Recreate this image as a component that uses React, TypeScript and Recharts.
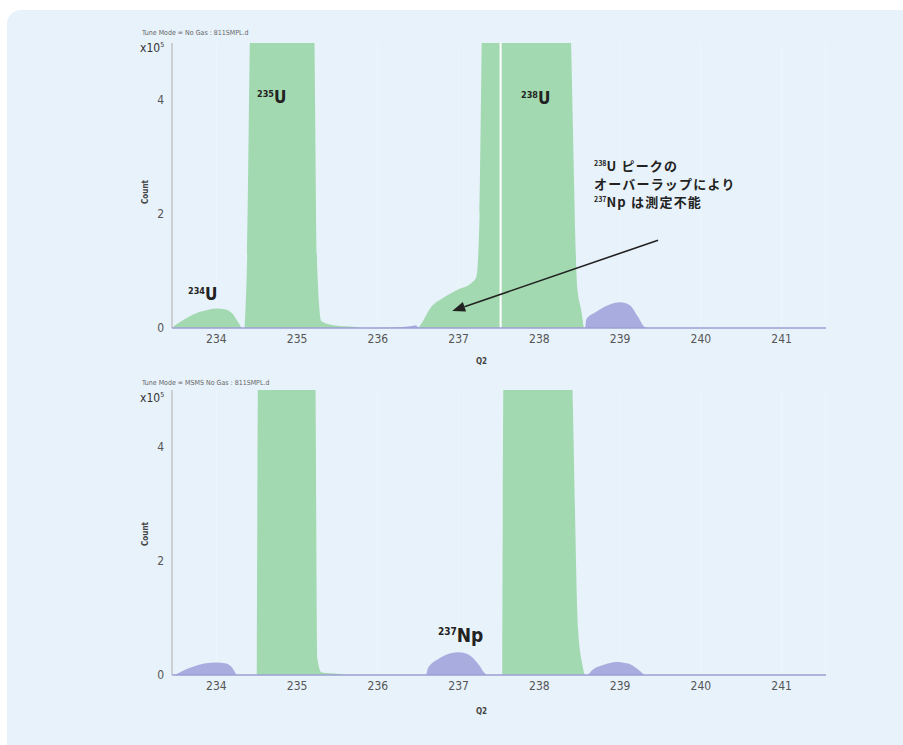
import React from 'react';
import {
  ComposedChart,
  Area,
  XAxis,
  YAxis,
  CartesianGrid,
  ReferenceLine,
} from 'recharts';

// Q2 ticks and count ticks (x10^5)
const qTicks = [234, 235, 236, 237, 238, 239, 240, 241];
const countTicks = [0, 2, 4];

// Top panel (No Gas) peaks: [q, count]
const topU234 = [[233.47, 0.03], [233.6, 0.15], [233.75, 0.26], [233.9, 0.32], [234.0, 0.34], [234.1, 0.33], [234.2, 0.25], [234.27, 0.1], [234.31, 0]];
const topU235 = [[234.35, 0], [234.38, 1.2], [234.43, 6], [235.2, 6], [235.25, 1.0], [235.3, 0.12], [235.5, 0.04], [235.7, 0.02], [235.8, 0]];
const topU238 = [[236.5, 0], [236.55, 0.1], [236.65, 0.35], [236.8, 0.52], [237.0, 0.68], [237.15, 0.78], [237.22, 0.9], [237.26, 2], [237.3, 6], [238.36, 6], [238.47, 0.7], [238.52, 0.3], [238.55, 0]];
const topBlue236 = [[235.6, 0], [236.2, 0.01], [236.4, 0.03], [236.47, 0.05], [236.5, 0]];
const topBlue239 = [[238.57, 0], [238.58, 0.15], [238.7, 0.28], [238.85, 0.4], [239.0, 0.45], [239.12, 0.4], [239.22, 0.2], [239.3, 0.02], [239.33, 0]];

// Bottom panel (MSMS No Gas) peaks
const botBlue234 = [[233.48, 0], [233.55, 0.05], [233.7, 0.14], [233.85, 0.2], [234.0, 0.22], [234.12, 0.2], [234.2, 0.12], [234.25, 0]];
const botGreen235 = [[234.5, 0], [234.52, 6], [235.22, 6], [235.25, 0.3], [235.3, 0.05], [235.5, 0.02], [235.6, 0]];
const botBlue237 = [[236.6, 0], [236.62, 0.12], [236.75, 0.28], [236.9, 0.38], [237.0, 0.4], [237.12, 0.36], [237.25, 0.18], [237.33, 0.02], [237.35, 0]];
const botGreen238 = [[237.54, 0], [237.56, 6], [238.38, 6], [238.48, 0.8], [238.53, 0.2], [238.56, 0]];
const botBlue239 = [[238.6, 0], [238.65, 0.08], [238.8, 0.18], [238.95, 0.23], [239.1, 0.2], [239.22, 0.1], [239.3, 0]];

// arrow from the note to the hidden 237Np region
const arrowFrom = { q: 239.47, c: 1.54 };
const arrowTo = { q: 236.92, c: 0.3 };

const GREEN = '#a3d9b1';
const BLUE = '#a9acdf';
const AXIS_FONT = '"DejaVu Sans Condensed", "Liberation Sans Narrow", Roboto, sans-serif';
const JP_FONT = '"Noto Sans CJK JP", "Noto Sans", sans-serif';

const toRows = (pts: number[][]) => pts.map(([q, c]) => ({ q, c }));

const Arrow = (props: any) => {
  const { x1, y1, x2, y2 } = props;
  const a = Math.atan2(y2 - y1, x2 - x1);
  const len = 13;
  const w = 5;
  const bx = x2 - len * Math.cos(a);
  const by = y2 - len * Math.sin(a);
  const px = -Math.sin(a) * w;
  const py = Math.cos(a) * w;
  return (
    <g>
      <line x1={x1} y1={y1} x2={bx} y2={by} stroke="#222" strokeWidth={1.6} />
      <polygon points={`${x2},${y2} ${bx + px},${by + py} ${bx - px},${by - py}`} fill="#222" />
    </g>
  );
};

function Panel({ peaks, showArrow, gap }: { peaks: { pts: number[][]; color: string }[]; showArrow?: boolean; gap?: number }) {
  return (
    <ComposedChart width={903} height={380} margin={{ top: 43, right: 77, left: 132, bottom: 22 }}>
      <CartesianGrid horizontal={false} stroke="#eef5fc" strokeWidth={1} />
      <XAxis
        type="number"
        dataKey="q"
        domain={[233.45, 241.55]}
        ticks={qTicks}
        allowDataOverflow
        tickLine={false}
        tickSize={4}
        axisLine={{ stroke: '#9c9fd3', strokeWidth: 1.5 }}
        tick={{ fill: '#555', fontSize: 12, fontFamily: AXIS_FONT }}
        height={30}
      />
      <YAxis
        type="number"
        dataKey="c"
        domain={[0, 5]}
        ticks={countTicks}
        allowDataOverflow
        tickLine={false}
        axisLine={{ stroke: '#aaa', strokeWidth: 1 }}
        tick={{ fill: '#555', fontSize: 12, fontFamily: AXIS_FONT }}
        width={40}
      />
      {peaks.map((p, i) => (
        <Area
          key={i}
          data={toRows(p.pts)}
          dataKey="c"
          type="monotone"
          stroke="none"
          fill={p.color}
          fillOpacity={1}
          isAnimationActive={false}
        />
      ))}
      {gap !== undefined && <ReferenceLine x={gap} stroke="#ffffff" strokeWidth={2} />}
      {showArrow && (
        <ReferenceLine
          segment={[
            { x: arrowFrom.q, y: arrowFrom.c },
            { x: arrowTo.q, y: arrowTo.c },
          ]}
          shape={Arrow}
        />
      )}
    </ComposedChart>
  );
}

const supStyle = (size: number): React.CSSProperties => ({
  fontSize: size,
  verticalAlign: 'baseline',
  position: 'relative',
  top: -size * 0.7,
  lineHeight: 0,
  letterSpacing: 0,
});

const iso = (mass: string, el: string, size: number, sup: number) => (
  <span style={{ fontFamily: AXIS_FONT, fontWeight: 700, color: '#222', fontSize: size, whiteSpace: 'nowrap' }}>
    <span style={supStyle(sup)}>{mass}</span>
    {el}
  </span>
);

const abs = (left: number, top: number, extra: React.CSSProperties = {}): React.CSSProperties => ({
  position: 'absolute',
  left,
  top,
  lineHeight: 1,
  ...extra,
});

export default function App() {
  const small: React.CSSProperties = { fontFamily: AXIS_FONT, fontSize: 7, color: '#666', whiteSpace: 'nowrap' };
  const tiny: React.CSSProperties = { fontFamily: AXIS_FONT, fontSize: 8, fontWeight: 700, color: '#444' };
  const note: React.CSSProperties = { fontFamily: JP_FONT, fontWeight: 700, fontSize: 13, letterSpacing: 1.2, color: '#222', whiteSpace: 'nowrap', lineHeight: '15px' };
  return (
    <div style={{ position: 'absolute', left: 0, top: 0, width: 903, height: 745, background: '#fff', overflow: 'hidden' }}>
      <div style={{ position: 'absolute', left: 7, top: 10, width: 910, height: 750, borderRadius: 14, background: '#e8f2fb' }} />

      <div style={abs(0, 0)}>
        <Panel
          peaks={[
            { pts: topBlue236, color: BLUE },
            { pts: topBlue239, color: BLUE },
            { pts: topU234, color: GREEN },
            { pts: topU235, color: GREEN },
            { pts: topU238, color: GREEN },
          ]}
          gap={237.52}
          showArrow
        />
      </div>
      <div style={abs(0, 347)}>
        <Panel
          peaks={[
            { pts: botBlue234, color: BLUE },
            { pts: botBlue237, color: BLUE },
            { pts: botBlue239, color: BLUE },
            { pts: botGreen235, color: GREEN },
            { pts: botGreen238, color: GREEN },
          ]}
        />
      </div>

      {/* panel headers */}
      <div style={abs(142, 30, small)}>Tune Mode = No Gas : 811SMPL.d</div>
      <div style={abs(142, 380, small)}>Tune Mode = MSMS No Gas : 811SMPL.d</div>
      <div style={abs(140, 42, { fontFamily: AXIS_FONT, fontSize: 12, color: '#333' })}>
        x10<span style={supStyle(7)}>5</span>
      </div>
      <div style={abs(140, 392, { fontFamily: AXIS_FONT, fontSize: 12, color: '#333' })}>
        x10<span style={supStyle(7)}>5</span>
      </div>
      <div style={abs(134, 188, { ...tiny, transform: 'rotate(-90deg)' })}>Count</div>
      <div style={abs(134, 530, { ...tiny, transform: 'rotate(-90deg)' })}>Count</div>
      <div style={abs(476, 358, tiny)}>Q2</div>
      <div style={abs(476, 708, tiny)}>Q2</div>

      {/* peak labels */}
      <div style={abs(188, 286)}>{iso('234', 'U', 17, 9)}</div>
      <div style={abs(257, 89)}>{iso('235', 'U', 17, 9)}</div>
      <div style={abs(521, 90)}>{iso('238', 'U', 17, 9)}</div>
      <div style={abs(438, 626)}>{iso('237', 'Np', 19, 10)}</div>

      {/* note */}
      <div style={abs(594, 158, note)}><span style={supStyle(7)}>238</span>U ピークの</div>
      <div style={abs(594, 176, note)}>オーバーラップにより</div>
      <div style={abs(594, 194, note)}><span style={supStyle(7)}>237</span>Np は測定不能</div>
    </div>
  );
}
